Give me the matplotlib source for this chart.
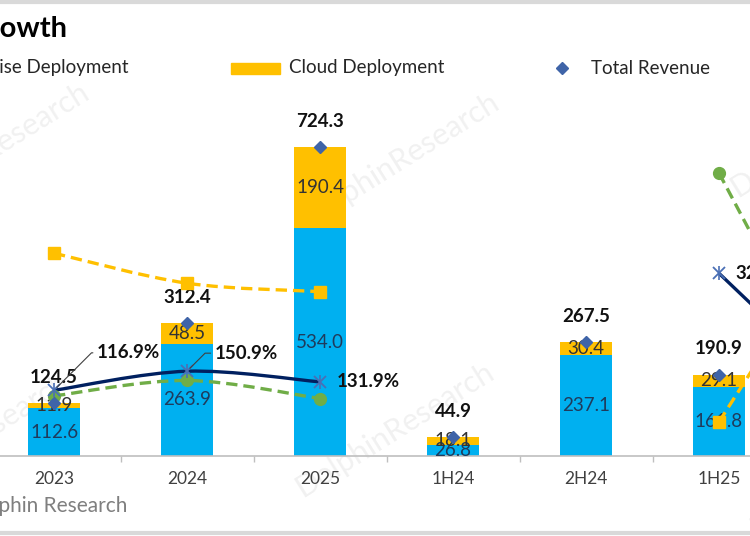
import numpy as np
import matplotlib
matplotlib.use('Agg')
import matplotlib.pyplot as plt
from matplotlib.path import Path
from matplotlib.patches import PathPatch, Rectangle
from matplotlib.lines import Line2D

plt.rcParams['font.family'] = ['Lato', 'DejaVu Sans']

# ---------------- data ----------------
categories = ['2023', '2024', '2025', '1H24', '2H24', '1H25', '2H25']
on_premise = [112.6, 263.9, 534.0, 26.8, 237.1, 161.8, 372.2]
cloud = [11.9, 48.5, 190.4, 18.1, 30.4, 29.1, 161.3]
total = [124.5, 312.4, 724.3, 44.9, 267.5, 190.9, 533.4]
total_growth = [116.9, 150.9, 131.9, np.nan, np.nan, 325.2, 99.4]
onprem_growth = [107.0, 134.4, 102.3, np.nan, np.nan, 503.7, 57.0]
cloud_growth = [361.0, 307.6, 292.6, np.nan, np.nan, 60.8, 430.6]
growth_labels_shown = [0, 1, 2, 5]

W, H = 750, 536
fig = plt.figure(figsize=(W / 100, H / 100), dpi=100)
fig.patch.set_facecolor('white')


def fx(px):
    return px / W


def fy(py):
    return 1 - py / H


ax = fig.add_axes([fx(-12.5), 80 / H, 931 / W, 341 / H])
ax.set_xlim(-0.5, len(categories) - 0.5)
ax.set_ylim(0, 800)
ax2 = ax.twinx()
ax2.set_ylim(0, 341 * 1.78)
ax.set_zorder(1)
ax2.set_zorder(2)
ax.patch.set_visible(False)
ax2.patch.set_visible(False)

x = np.arange(len(categories))
bw = 0.39
ax.bar(x, on_premise, width=bw, color='#00B0F0', zorder=2)
ax.bar(x, cloud, width=bw, bottom=on_premise, color='#FFC000', zorder=2)

for xi, op, cl, tot in zip(x, on_premise, cloud, total):
    ax.text(xi, op / 2, f'{op:.1f}', ha='center', va='center',
            fontsize=13.5, color='#1F3B5C', zorder=3)
    ax.text(xi, op + cl / 2, f'{cl:.1f}', ha='center', va='center',
            fontsize=13.5, color='#333333', zorder=3)
    ax.annotate(f'{tot:.1f}', (xi, tot), xytext=(0, 18.5),
                textcoords='offset points', ha='center', va='center',
                fontsize=13.5, fontweight='bold', color='#111111', zorder=5)

# total revenue diamonds
ax2.plot(x, np.array(total) * (341 * 1.78 / 800), ls='none', marker='D',
         ms=6.5, color='#3F64A8', zorder=6)


def smooth_path(xs, ys):
    pts = np.column_stack([xs, ys])
    n = len(pts)
    verts = [pts[0]]
    codes = [Path.MOVETO]
    for i in range(n - 1):
        p0 = pts[i - 1] if i > 0 else pts[i]
        p1 = pts[i]
        p2 = pts[i + 1]
        p3 = pts[i + 2] if i + 2 < n else pts[i + 1]
        c1 = p1 + (p2 - p0) / 6.0
        c2 = p2 - (p3 - p1) / 6.0
        verts += [c1, c2, p2]
        codes += [Path.CURVE4] * 3
    return Path(verts, codes)


def draw_series(vals, color, marker, ms, mfc, mec, mew, dashes=None):
    vals = np.array(vals, dtype=float)
    segs = []
    cur = []
    for i, v in enumerate(vals):
        if np.isnan(v):
            if cur:
                segs.append(cur)
            cur = []
        else:
            cur.append(i)
    if cur:
        segs.append(cur)
    for s in segs:
        p = smooth_path(x[s].astype(float), vals[s])
        patch = PathPatch(p, fill=False, edgecolor=color, lw=2.4, zorder=4,
                          capstyle='butt')
        if dashes is not None:
            patch.set_linestyle((0, dashes))
        ax2.add_patch(patch)
    ax2.plot(x, vals, ls='none', marker=marker, ms=ms, mfc=mfc, mec=mec,
             mew=mew, zorder=5)


draw_series(cloud_growth, '#FFC000', 's', 9, '#FFC000', '#FFC000', 1,
            dashes=(3.4, 1.8))
draw_series(onprem_growth, '#70AD47', 'o', 8.5, '#70AD47', '#70AD47', 1,
            dashes=(3.4, 1.8))
draw_series(total_growth, '#002060', 'x', 9, '#4A6FB5', '#4A6FB5', 1.3)
ax2.plot(x, total_growth, ls='none', marker='|', ms=10, mec='#4A6FB5',
         mew=1.2, zorder=5)

# growth labels (total revenue growth)
label_offsets = {0: (31, 27), 1: (20, 13), 2: (12, 0), 5: (11.5, 0)}
for i in growth_labels_shown:
    dx, dy = label_offsets[i]
    kw = {}
    if i in (0, 1):
        kw['arrowprops'] = dict(arrowstyle='-', color='#404040', lw=0.8,
                                shrinkA=1, shrinkB=3, relpos=(0, 0.5),
                                connectionstyle='angle,angleA=180,angleB=45,rad=0')
    ax2.annotate(f'{total_growth[i]:.1f}%', (x[i], total_growth[i]),
                 xytext=(dx, dy), textcoords='offset points', ha='left',
                 va='center', fontsize=13.5, fontweight='bold',
                 color='#111111', zorder=7, **kw)

# axes styling
for a in (ax, ax2):
    for sp in ('top', 'left', 'right'):
        a.spines[sp].set_visible(False)
    a.set_yticks([])
ax2.spines['bottom'].set_visible(False)
ax.spines['bottom'].set_color('#BFBFBF')
ax.spines['bottom'].set_linewidth(1.2)
ax.set_xticks(x, categories)
ax.tick_params(axis='x', which='major', length=0, pad=11, labelsize=12.5,
               labelcolor='#404040')
ax.set_xticks(np.arange(len(categories) + 1) - 0.5, minor=True)
ax.tick_params(axis='x', which='minor', length=4, width=1, color='#BFBFBF',
               direction='out')

# legend (manual)
fig.text(fx(128), fy(68), 'On-premise Deployment', ha='right', va='center',
         fontsize=13.5, color='#262626')
fig.add_artist(Rectangle((fx(231), fy(74)), 49 / W, 11 / H,
                         transform=fig.transFigure, color='#FFC000'))
fig.text(fx(289), fy(68), 'Cloud Deployment', ha='left', va='center',
         fontsize=13.5, color='#262626')
fig.add_artist(Line2D([fx(562)], [fy(68)], marker='D', ms=6.5,
                      color='#3F64A8', ls='none', transform=fig.transFigure))
fig.text(fx(591), fy(68), 'Total Revenue', ha='left', va='center',
         fontsize=13.5, color='#262626')

# title and source
fig.text(fx(67), fy(29), 'Revenue Growth', ha='right', va='center',
         fontsize=21, fontweight='bold', color='#000000')
fig.text(fx(127), fy(506), 'Source: Dolphin Research', ha='right',
         va='center', fontsize=15, color='#7F7F7F')

# frame lines
fig.add_artist(Line2D([0, 1], [fy(2), fy(2)], color='#D9D9D9', lw=3,
                      transform=fig.transFigure))
fig.add_artist(Line2D([0, 1], [fy(533), fy(533)], color='#D9D9D9', lw=3,
                      transform=fig.transFigure))

# watermarks
for (px, py) in [(-10, 150), (400, 160), (830, 130), (-30, 440), (395, 430),
                 (850, 470)]:
    fig.text(fx(px), fy(py), 'DolphinResearch', ha='center', va='center',
             rotation=32, fontsize=22, color='#000000', alpha=0.06,
             zorder=0)

fig.savefig('out.png', dpi=100)
